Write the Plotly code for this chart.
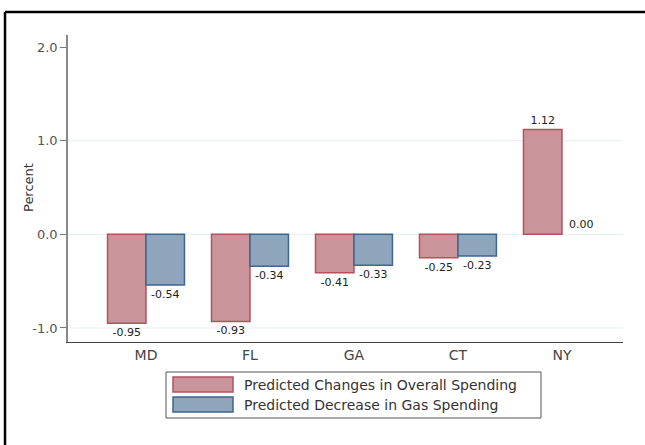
import plotly.graph_objects as go

states = ["MD", "FL", "GA", "CT", "NY"]
overall = [-0.95, -0.93, -0.41, -0.25, 1.12]
gas = [-0.54, -0.34, -0.33, -0.23, 0.00]
series_names = ["Predicted Changes in Overall Spending", "Predicted Decrease in Gas Spending"]
y_ticks = [-1.0, 0.0, 1.0, 2.0]
grid_vals = [-1.0, 0.0, 1.0]

RED_FILL = "rgb(201,149,154)"
RED_EDGE = "rgb(178,82,92)"
BLUE_FILL = "rgb(142,165,187)"
BLUE_EDGE = "rgb(62,102,142)"
FONT = "DejaVu Sans, Verdana, sans-serif"

def edge_widths(vals):
    return [1.5 if v != 0 else 0 for v in vals]

fig = go.Figure()
fig.add_trace(go.Bar(x=states, y=overall, name=series_names[0],
                     marker=dict(color=RED_FILL, line=dict(color=RED_EDGE, width=edge_widths(overall))),
                     texttemplate="%{y:.2f}", textposition="outside", cliponaxis=False,
                     textfont=dict(size=11, color="#222", family=FONT)))
fig.add_trace(go.Bar(x=states, y=gas, name=series_names[1],
                     marker=dict(color=BLUE_FILL, line=dict(color=BLUE_EDGE, width=edge_widths(gas))),
                     texttemplate="%{y:.2f}", textposition="outside", cliponaxis=False,
                     textfont=dict(size=11, color="#222", family=FONT)))

W, H = 645, 445
ml, mr, mt, mb = 68, 22, 35, 103
pw, ph = W - ml - mr, H - mt - mb

def px(x):
    return (x - ml) / pw

def py(y):
    return (H - mb - y) / ph

shapes = [
    dict(type="line", xref="paper", yref="y", x0=0, x1=1, y0=g, y1=g, layer="below",
         line=dict(color="#e6efef", width=1)) for g in grid_vals
]
shapes += [
    # outer frame (top and left edges visible)
    dict(type="line", xref="paper", yref="paper", x0=px(5), x1=px(660), y0=py(12), y1=py(12),
         line=dict(color="black", width=2.5)),
    dict(type="line", xref="paper", yref="paper", x0=px(5), x1=px(5), y0=py(12), y1=py(460),
         line=dict(color="black", width=2.5)),
    # legend box
    dict(type="rect", xref="paper", yref="paper", x0=px(166), x1=px(541), y0=py(372), y1=py(418),
         line=dict(color="#555", width=1), fillcolor="white"),
    dict(type="rect", xref="paper", yref="paper", x0=px(173), x1=px(233), y0=py(377), y1=py(392),
         line=dict(color=RED_EDGE, width=1.5), fillcolor=RED_FILL),
    dict(type="rect", xref="paper", yref="paper", x0=px(173), x1=px(233), y0=py(397), y1=py(412),
         line=dict(color=BLUE_EDGE, width=1.5), fillcolor=BLUE_FILL),
]
annotations = [
    dict(xref="paper", yref="paper", x=px(242), y=py(384.5), text=series_names[0], showarrow=False,
         xanchor="left", yanchor="middle", font=dict(size=14, color="#333", family=FONT)),
    dict(xref="paper", yref="paper", x=px(242), y=py(404.5), text=series_names[1], showarrow=False,
         xanchor="left", yanchor="middle", font=dict(size=14, color="#333", family=FONT)),
    dict(xref="paper", yref="paper", x=px(28), y=py(188), text="Percent", showarrow=False,
         textangle=-90, xanchor="center", yanchor="middle",
         font=dict(size=13, color="#333", family=FONT)),
]

fig.update_layout(
    width=W, height=H,
    margin=dict(l=ml, r=mr, t=mt, b=mb),
    paper_bgcolor="white", plot_bgcolor="white",
    barmode="group", bargap=0.26, bargroupgap=0,
    showlegend=False,
    font=dict(family=FONT),
    shapes=shapes, annotations=annotations,
)
fig.update_xaxes(range=[-0.75, 4.587], showline=True, linecolor="#444", linewidth=1.2,
                 showgrid=False, ticks="", tickfont=dict(size=14, color="#444"), zeroline=False)
fig.update_yaxes(range=[-1.15, 2.13], tickvals=y_ticks, ticktext=[f"{v:.1f}" for v in y_ticks],
                 showline=True, linecolor="#888", linewidth=1.5,
                 ticks="outside", ticklen=6, tickcolor="#777", tickwidth=1,
                 showgrid=False, zeroline=False,
                 tickfont=dict(size=13, color="#555"))

fig.write_html("out.html", config={"displayModeBar": False},
               post_script="document.body.style.margin='0';")
